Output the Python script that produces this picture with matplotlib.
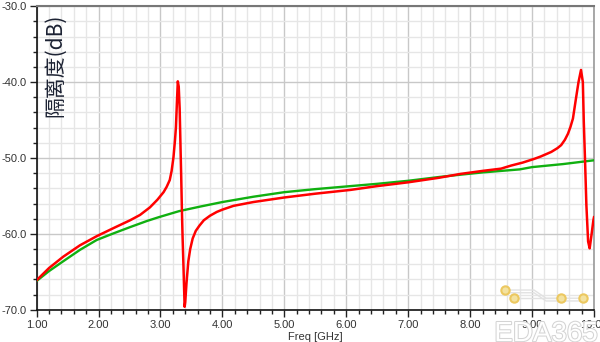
import matplotlib.pyplot as plt
import matplotlib.patheffects as pe
from matplotlib.ticker import MultipleLocator

# 读图得到的数据 (GHz, dB)
freq_green = [1.0, 1.2, 1.43, 1.7, 1.97, 2.25, 2.51, 2.78, 2.97, 3.3, 3.64, 4.0, 4.5,
              5.0, 5.5, 6.07, 6.5, 7.0, 7.5, 7.84, 8.2, 8.5, 8.8, 9.0, 9.5, 10.0]
iso_green = [-66.2, -64.9, -63.6, -62.1, -60.8, -59.9, -59.1, -58.3, -57.8, -57.0, -56.4, -55.8, -55.1,
             -54.5, -54.1, -53.7, -53.4, -53.0, -52.5, -52.2, -51.9, -51.7, -51.5, -51.2, -50.8, -50.3]

freq_red = [1.0, 1.2, 1.43, 1.7, 1.97, 2.25, 2.51, 2.67, 2.83, 2.95, 3.05, 3.10, 3.15, 3.18,
            3.21, 3.235, 3.25, 3.265, 3.28, 3.295, 3.31, 3.325, 3.335, 3.346, 3.357, 3.373, 3.39,
            3.40, 3.42, 3.45, 3.48, 3.52, 3.57, 3.63, 3.70, 3.80, 3.91, 4.0, 4.18, 4.5, 5.0, 5.5,
            6.07, 6.5, 7.0, 7.5, 7.84, 8.2, 8.5, 8.66, 8.85, 9.04, 9.14, 9.31, 9.41, 9.47, 9.53,
            9.58, 9.62, 9.66, 9.71, 9.75, 9.79, 9.82, 9.835, 9.856, 9.877, 9.905, 9.93, 9.96, 9.99, 10.0]
iso_red = [-66.1, -64.5, -63.0, -61.5, -60.3, -59.2, -58.2, -57.5, -56.5, -55.5, -54.5, -53.8, -52.9, -51.7,
           -49.9, -47.6, -45.9, -42.8, -39.9, -40.6, -43.5, -49.0, -52.5, -56.8, -60.4, -64.7, -69.6,
           -69.0, -66.5, -63.6, -62.0, -60.6, -59.6, -58.9, -58.2, -57.6, -57.1, -56.8, -56.3, -55.8, -55.2, -54.7,
           -54.2, -53.7, -53.2, -52.6, -52.1, -51.7, -51.4, -51.0, -50.6, -50.1, -49.8, -49.2, -48.7, -48.3, -47.6,
           -46.8, -45.9, -44.8, -42.1, -40.0, -38.4, -40.0, -45.2, -50.5, -56.2, -61.0, -61.9, -60.1, -58.2, -57.8]

fig = plt.figure(figsize=(6, 3.42), dpi=100)
ax = fig.add_axes([0.061, 0.094, 0.929, 0.888])

ax.plot(freq_green, iso_green, color='#10b010', lw=1.7, zorder=3)
ax.plot(freq_red, iso_red, color='#ff0000', lw=1.8, zorder=4)

ax.set_xlim(1, 10)
ax.set_ylim(-70, -30)
ax.xaxis.set_major_locator(MultipleLocator(1))
ax.xaxis.set_minor_locator(MultipleLocator(0.2))
ax.yaxis.set_major_locator(MultipleLocator(10))
ax.yaxis.set_minor_locator(MultipleLocator(2))
ax.xaxis.set_major_formatter(lambda v, p: '%.2f' % v)
ax.yaxis.set_major_formatter(lambda v, p: '%.1f' % v)

ax.grid(True, which='major', color='#c8c8c8', lw=1.0)
ax.grid(True, which='minor', color='#e6e6e6', lw=1.0)
ax.set_axisbelow(True)

ax.tick_params(which='major', direction='out', length=5, width=1, color='#222222',
               labelsize=8, labelcolor='#333333', pad=2)
ax.tick_params(which='minor', direction='out', length=3, width=1, color='#222222')
for lab in ax.get_xticklabels() + ax.get_yticklabels():
    lab.set_family('Liberation Sans')

ax.spines['left'].set_color('#111111')
ax.spines['bottom'].set_color('#111111')
ax.spines['left'].set_linewidth(1.2)
ax.spines['bottom'].set_linewidth(1.2)
ax.spines['top'].set_color('#777777')
ax.spines['top'].set_linewidth(1.5)
ax.spines['right'].set_color('#999999')
ax.spines['right'].set_linewidth(1.2)

ax.set_xlabel('Freq [GHz]', fontsize=8, family='Liberation Sans', color='#333333', labelpad=2)

# y 轴标题放在绘图区内
fig.text(0.092, 0.81, '隔离度(dB)', rotation=90, ha='center', va='center',
         fontsize=15, family=['Noto Sans CJK SC', 'DejaVu Sans'], color='#1c2233')

# 水印
fig.text(0.91, -0.015, 'EDA365', fontsize=20, family='Liberation Sans', color='white',
         ha='center', va='bottom', zorder=10,
         path_effects=[pe.withStroke(linewidth=1.5, foreground='#d4d4d4')])
for dy in (0.0, -0.008):
    fig.lines.append(plt.Line2D([0.842, 0.89, 0.91, 0.972], [0.152 + dy, 0.152 + dy, 0.128 + dy, 0.128 + dy],
                                transform=fig.transFigure, color='#e2e2e2', lw=1.0))
fig.lines.append(plt.Line2D([0.857, 0.935], [0.128, 0.128],
                            transform=fig.transFigure, color='#e2e2e2', lw=1.0))
fig.lines.append(plt.Line2D([0.842, 0.857, 0.935, 0.972], [0.152, 0.128, 0.128, 0.128],
                            transform=fig.transFigure, ls='none', marker='o', ms=6,
                            mfc='#f3e2a0', mec='#ecc860', mew=1.5))

fig.savefig('out.png', dpi=100)
